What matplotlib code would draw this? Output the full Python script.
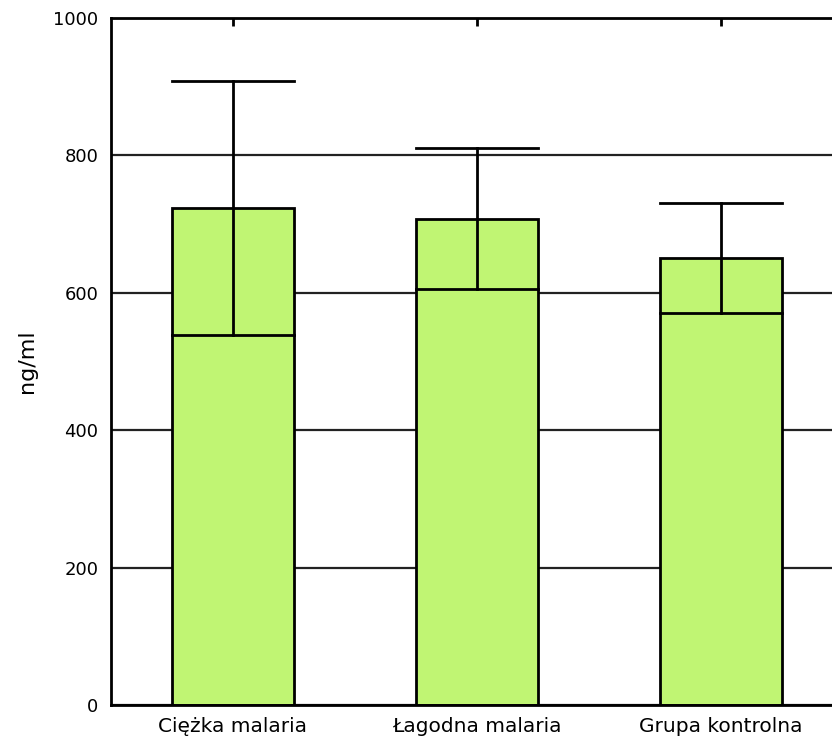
import matplotlib

matplotlib.use("Agg")
import matplotlib.pyplot as plt

categories = ["Ciężka malaria", "Łagodna malaria", "Grupa kontrolna"]
means = [723, 708, 650]
sd = [185, 103, 80]
y_ticks = [0, 200, 400, 600, 800, 1000]

BAR_COLOR = "#c0f573"

plt.rcParams["font.family"] = ["DejaVu Sans"]

fig = plt.figure(figsize=(8.32, 7.44), dpi=100)
# the original is cropped on the right, so the axes run past the figure edge
ax = fig.add_axes([111 / 832, 39 / 744, 732 / 832, 687 / 744])

x = list(range(len(categories)))
width = 0.5

ax.bar(x, means, width=width, color=BAR_COLOR, edgecolor="black",
       linewidth=2, zorder=2)

for xi, m, s in zip(x, means, sd):
    ax.plot([xi, xi], [m - s, m + s], color="black", linewidth=2, zorder=3)
    ax.plot([xi - width / 2, xi + width / 2], [m + s, m + s],
            color="black", linewidth=2, zorder=3)
    ax.plot([xi - width / 2, xi + width / 2], [m - s, m - s],
            color="black", linewidth=2, zorder=3)

ax.set_xlim(-0.5, 2.5)
ax.set_ylim(0, 1000)
ax.set_yticks(y_ticks)
ax.set_xticks(x)
ax.set_xticklabels(categories, fontsize=14.5)
ax.set_ylabel("ng/ml", fontsize=16, labelpad=12)

ax.yaxis.grid(True, color="#222222", linewidth=1.6, linestyle="-")
ax.set_axisbelow(True)

ax.tick_params(axis="x", direction="in", length=6, width=2, top=True, pad=9)
ax.tick_params(axis="y", length=0, labelsize=13, pad=9)

for spine in ax.spines.values():
    spine.set_linewidth(2)

fig.savefig("out.png", dpi=100)
